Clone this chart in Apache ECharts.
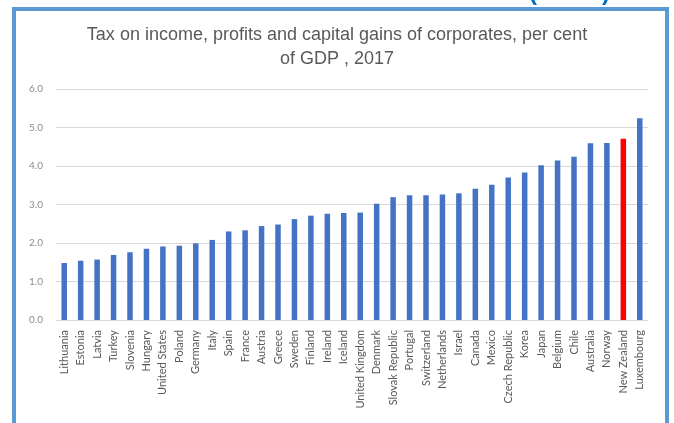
<!DOCTYPE html>
<html>
<head>
<meta charset="utf-8">
<script src="https://cdn.jsdelivr.net/npm/echarts@6/dist/echarts.min.js"></script>
<style>
  html, body { margin: 0; padding: 0; background: #ffffff; }
  #chart { width: 674px; height: 423px; }
</style>
</head>
<body>
<div id="chart"></div>
<script>
// Corporate income tax revenue, % of GDP, 2017
const countries = [
  'Lithuania', 'Estonia', 'Latvia', 'Turkey', 'Slovenia', 'Hungary',
  'United States', 'Poland', 'Germany', 'Italy', 'Spain', 'France',
  'Austria', 'Greece', 'Sweden', 'Finland', 'Ireland', 'Iceland',
  'United Kingdom', 'Denmark', 'Slovak Republic', 'Portugal', 'Switzerland',
  'Netherlands', 'Israel', 'Canada', 'Mexico', 'Czech Republic', 'Korea',
  'Japan', 'Belgium', 'Chile', 'Australia', 'Norway', 'New Zealand', 'Luxembourg'
];
const taxShare = [
  1.48, 1.54, 1.57, 1.69, 1.76, 1.85,
  1.91, 1.93, 1.99, 2.08, 2.30, 2.33,
  2.44, 2.48, 2.62, 2.71, 2.76, 2.78,
  2.79, 3.02, 3.19, 3.24, 3.24,
  3.26, 3.29, 3.41, 3.51, 3.70, 3.83,
  4.02, 4.14, 4.24, 4.59, 4.60, 4.71, 5.24
];
const highlighted = 'New Zealand';
const yTicks = [0, 1, 2, 3, 4, 5, 6];

const chart = echarts.init(document.getElementById('chart'), null, { renderer: 'canvas' });

chart.setOption({
  animation: false,
  backgroundColor: '#ffffff',
  textStyle: { fontFamily: 'Lato, "Liberation Sans", sans-serif' },
  title: {
    text: 'Tax on income, profits and capital gains of corporates, per cent\nof GDP , 2017',
    left: 'center',
    top: 18,
    textStyle: {
      fontSize: 18,
      fontWeight: 'normal',
      color: '#595959',
      lineHeight: 24,
      align: 'center',
      fontFamily: '"Liberation Sans", Arial, sans-serif'
    }
  },
  grid: { left: 56, right: 26, top: 89, bottom: 103, containLabel: false },
  xAxis: {
    type: 'category',
    data: countries,
    axisLine: { lineStyle: { color: '#d9d9d9', width: 1 } },
    axisTick: { show: false },
    axisLabel: {
      rotate: 90,
      interval: 0,
      margin: 10,
      fontSize: 11,
      color: '#595959'
    }
  },
  yAxis: {
    type: 'value',
    min: yTicks[0],
    max: yTicks[yTicks.length - 1],
    interval: 1,
    axisLine: { show: false },
    axisTick: { show: false },
    splitLine: { lineStyle: { color: '#d9d9d9', width: 1 } },
    axisLabel: {
      margin: 13,
      fontSize: 10,
      color: '#8c8c8c',
      formatter: v => v.toFixed(1)
    }
  },
  series: [{
    type: 'bar',
    barWidth: 5.5,
    data: taxShare.map((v, i) => ({
      value: v,
      itemStyle: { color: countries[i] === highlighted ? '#ff0000' : '#4472c4' }
    }))
  }],
  graphic: [
    {
      type: 'rect',
      shape: { x: 14, y: 9, width: 653, height: 500 },
      style: { fill: 'none', stroke: '#5b9bd5', lineWidth: 4 },
      silent: true
    },
    {
      type: 'text',
      left: 529,
      top: -19,
      style: {
        text: '(',
        fontSize: 24,
        fontWeight: 'bold',
        fill: '#0070c0',
        fontFamily: '"Liberation Sans", sans-serif'
      }
    },
    {
      type: 'text',
      left: 602,
      top: -19,
      style: {
        text: ')',
        fontSize: 24,
        fontWeight: 'bold',
        fill: '#0070c0',
        fontFamily: '"Liberation Sans", sans-serif'
      }
    }
  ]
});
</script>
</body>
</html>
